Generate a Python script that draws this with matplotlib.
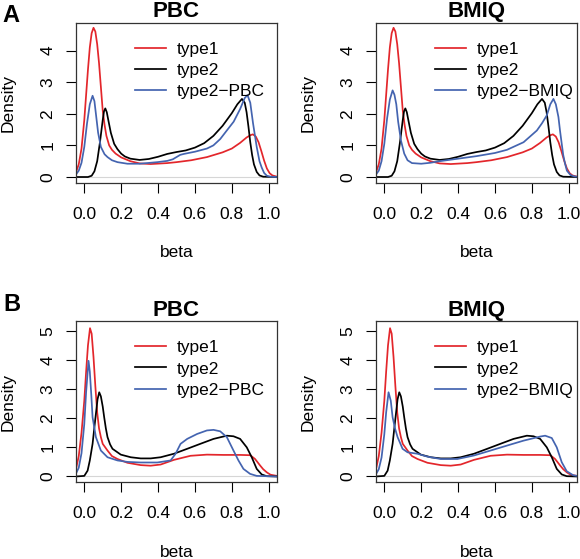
import matplotlib
matplotlib.use('Agg')
import matplotlib.pyplot as plt

plt.rcParams['font.family'] = ['Liberation Sans', 'DejaVu Sans']

# ---- A: density of beta values (top row) ----
a_type1_x = [-0.045, -0.03, -0.015, 0.0, 0.01, 0.02, 0.03, 0.04, 0.05, 0.06, 0.07, 0.08, 0.09, 0.10, 0.11, 0.12,
             0.135, 0.15, 0.17, 0.2, 0.25, 0.3, 0.36, 0.45, 0.5, 0.58, 0.665, 0.75, 0.8, 0.845, 0.88, 0.9, 0.914,
             0.93, 0.945, 0.96, 0.975, 0.99, 1.005, 1.02, 1.045]
a_type1_y = [0.15, 0.4, 0.9, 1.8, 2.6, 3.4, 4.1, 4.55, 4.72, 4.6, 4.2, 3.6, 2.85, 2.1, 1.65, 1.3,
             1.0, 0.86, 0.74, 0.62, 0.5, 0.43, 0.41, 0.44, 0.47, 0.53, 0.63, 0.78, 0.9, 1.08, 1.25, 1.32, 1.35,
             1.28, 1.1, 0.82, 0.52, 0.27, 0.12, 0.05, 0.01]

a_type2_x = [-0.045, 0.02, 0.04, 0.055, 0.07, 0.085, 0.1, 0.107, 0.114, 0.122, 0.132, 0.144, 0.162, 0.18, 0.2,
             0.22, 0.25, 0.3, 0.35, 0.4, 0.45, 0.5, 0.55, 0.6, 0.65, 0.7, 0.75, 0.8, 0.83, 0.855, 0.87, 0.88,
             0.89, 0.9, 0.91, 0.92, 0.935, 0.95, 0.97, 1.045]
a_type2_y = [0, 0, 0.04, 0.18, 0.5, 1.1, 1.8, 2.08, 2.17, 2.05, 1.75, 1.4, 1.05, 0.88, 0.74,
             0.65, 0.58, 0.54, 0.57, 0.64, 0.73, 0.79, 0.84, 0.93, 1.07, 1.3, 1.62, 2.02, 2.3, 2.47, 2.35, 2.05,
             1.6, 1.1, 0.7, 0.4, 0.16, 0.05, 0.01, 0]

a_pbc_x = [-0.045, -0.03, -0.015, 0.0, 0.015, 0.03, 0.045, 0.055, 0.065, 0.075, 0.09, 0.11, 0.126, 0.15, 0.18,
           0.234, 0.3, 0.396, 0.45, 0.48, 0.5, 0.52, 0.54, 0.6, 0.665, 0.7, 0.737, 0.77, 0.81, 0.845, 0.87,
           0.885, 0.9, 0.915, 0.935, 0.95, 0.962, 0.975, 0.99, 1.01, 1.045]
a_pbc_y = [0.08, 0.2, 0.45, 0.95, 1.7, 2.3, 2.57, 2.4, 1.9, 1.4, 0.95, 0.72, 0.63, 0.53, 0.47,
           0.42, 0.42, 0.47, 0.51, 0.56, 0.63, 0.7, 0.73, 0.8, 0.9, 1.0, 1.2, 1.45, 1.75, 2.15, 2.5,
           2.59, 2.35, 1.7, 0.95, 0.5, 0.3, 0.13, 0.04, 0.01, 0]

a_bmiq_x = [-0.045, -0.03, -0.015, 0.0, 0.015, 0.03, 0.045, 0.055, 0.065, 0.075, 0.09, 0.108, 0.126, 0.15, 0.2,
            0.25, 0.3, 0.4, 0.5, 0.6, 0.665, 0.755, 0.827, 0.855, 0.881, 0.9, 0.917, 0.93, 0.944, 0.953,
            0.962, 0.97, 0.98, 0.99, 1.01, 1.03, 1.045]
a_bmiq_y = [0.08, 0.2, 0.5, 1.05, 1.85, 2.45, 2.74, 2.6, 2.3, 1.75, 1.16, 0.74, 0.53, 0.44, 0.42,
            0.45, 0.5, 0.58, 0.66, 0.76, 0.86, 1.1, 1.47, 1.7, 1.95, 2.3, 2.47, 2.3, 1.9, 1.45,
            1.05, 0.7, 0.42, 0.2, 0.06, 0.02, 0.01]

# ---- B: density of beta values (bottom row) ----
b_type1_x = [-0.045, -0.03, -0.015, 0.0, 0.01, 0.02, 0.031, 0.04, 0.05, 0.06, 0.07, 0.08, 0.09, 0.1, 0.126,
             0.15, 0.18, 0.234, 0.306, 0.36, 0.414, 0.486, 0.576, 0.665, 0.755, 0.845, 0.9, 0.926, 0.953, 0.97,
             0.99, 1.01, 1.045]
b_type1_y = [0.25, 0.7, 1.5, 2.6, 3.6, 4.5, 5.09, 4.9, 4.1, 3.1, 2.2, 1.65, 1.35, 1.12, 0.89,
             0.7, 0.6, 0.47, 0.39, 0.37, 0.41, 0.57, 0.71, 0.75, 0.74, 0.74, 0.73, 0.6, 0.38, 0.25,
             0.14, 0.06, 0.02]

b_type2_x = [-0.045, 0.0, 0.018, 0.03, 0.045, 0.055, 0.063, 0.072, 0.081, 0.09, 0.1, 0.108, 0.117, 0.126, 0.14,
             0.153, 0.198, 0.252, 0.306, 0.36, 0.414, 0.486, 0.558, 0.629, 0.701, 0.773, 0.809, 0.845, 0.881,
             0.908, 0.935, 0.962, 0.989, 1.045]
b_type2_y = [0, 0.02, 0.2, 0.55, 1.12, 1.7, 2.15, 2.65, 2.89, 2.75, 2.4, 2.03, 1.65, 1.35, 1.1,
             0.95, 0.75, 0.66, 0.62, 0.62, 0.66, 0.78, 0.95, 1.12, 1.29, 1.4, 1.38, 1.29, 1.0,
             0.66, 0.26, 0.07, 0.01, 0]

b_pbc_x = [-0.045, -0.03, -0.015, 0.0, 0.01, 0.023, 0.03, 0.038, 0.045, 0.063, 0.09, 0.126, 0.18, 0.234, 0.306,
           0.396, 0.468, 0.495, 0.522, 0.558, 0.612, 0.665, 0.701, 0.737, 0.773, 0.809, 0.836, 0.863, 0.899,
           0.935, 1.045]
b_pbc_y = [0.1, 0.3, 0.8, 1.8, 2.9, 3.97, 3.6, 2.8, 2.03, 1.35, 0.89, 0.66, 0.55, 0.5, 0.48,
           0.48, 0.55, 0.78, 1.12, 1.29, 1.46, 1.58, 1.6, 1.55, 1.35, 0.89, 0.55, 0.26, 0.09,
           0.02, 0]

b_bmiq_x = [-0.045, -0.03, -0.015, 0.0, 0.01, 0.023, 0.035, 0.045, 0.058, 0.072, 0.099, 0.126, 0.18, 0.234,
            0.306, 0.396, 0.486, 0.576, 0.665, 0.755, 0.845, 0.872, 0.908, 0.935, 0.962, 0.989, 1.025, 1.045]
b_bmiq_y = [0.08, 0.25, 0.65, 1.45, 2.2, 2.89, 2.6, 2.03, 1.65, 1.35, 0.95, 0.83, 0.78, 0.68,
            0.6, 0.6, 0.72, 0.89, 1.06, 1.23, 1.37, 1.4, 1.32, 1.0, 0.49, 0.18, 0.04, 0.02]

x_ticks = [0.0, 0.2, 0.4, 0.6, 0.8, 1.0]
a_y_ticks = [0, 1, 2, 3, 4]
b_y_ticks = [0, 1, 2, 3, 4, 5]

RED = '#e3262b'
BLACK = '#000000'
BLUE = '#4464b0'


def draw_panel(ax, title, curves, yticks, ylim):
    ax.axhline(0, color='#d6d6d6', lw=0.8, zorder=0)
    for x, y, color, label in curves:
        ax.plot(x, y, color=color, lw=1.25, label=label)
    ax.set_xlim(-0.045, 1.045)
    ax.set_ylim(*ylim)
    ax.set_xticks(x_ticks)
    ax.set_xticklabels(['%.1f' % t for t in x_ticks])
    ax.set_yticks(yticks)
    ax.tick_params(direction='out', length=7, width=0.8, labelsize=12.5)
    ax.tick_params(axis='x', pad=10)
    ax.tick_params(axis='y', labelrotation=90, pad=8)
    for lab in ax.get_yticklabels():
        lab.set_va('center')
    for sp in ax.spines.values():
        sp.set_linewidth(0.9)
        sp.set_color('#333333')
    ax.set_title(title, fontweight='bold', fontsize=16, pad=4)
    ax.set_xlabel('beta', fontsize=12.5)
    ax.xaxis.set_label_coords(0.5, -0.435)
    ax.xaxis.label.set_va('center')
    ax.set_ylabel('Density', fontsize=12.5)
    ax.yaxis.set_label_coords(-0.338, 0.5)
    ax.yaxis.label.set_va('center')
    ax.legend(loc='upper left', bbox_to_anchor=(0.294, 0.885), frameon=False, fontsize=12.5,
              handlelength=1.8, handletextpad=0.6, labelspacing=0.36, borderpad=0, borderaxespad=0)


fig = plt.figure(figsize=(5.8, 5.59), dpi=100)
ax1 = fig.add_axes([0.131, 0.6726, 0.3466, 0.2862])
ax2 = fig.add_axes([0.6483, 0.6726, 0.3466, 0.2862])
ax3 = fig.add_axes([0.131, 0.1372, 0.3466, 0.2877])
ax4 = fig.add_axes([0.6483, 0.1372, 0.3466, 0.2877])

draw_panel(ax1, 'PBC', [(a_type1_x, a_type1_y, RED, 'type1'),
                        (a_type2_x, a_type2_y, BLACK, 'type2'),
                        (a_pbc_x, a_pbc_y, BLUE, 'type2\u2212PBC')], a_y_ticks, (-0.19, 4.87))
draw_panel(ax2, 'BMIQ', [(a_type1_x, a_type1_y, RED, 'type1'),
                         (a_type2_x, a_type2_y, BLACK, 'type2'),
                         (a_bmiq_x, a_bmiq_y, BLUE, 'type2\u2212BMIQ')], a_y_ticks, (-0.19, 4.87))
draw_panel(ax3, 'PBC', [(b_type1_x, b_type1_y, RED, 'type1'),
                        (b_type2_x, b_type2_y, BLACK, 'type2'),
                        (b_pbc_x, b_pbc_y, BLUE, 'type2\u2212PBC')], b_y_ticks, (-0.2, 5.32))
draw_panel(ax4, 'BMIQ', [(b_type1_x, b_type1_y, RED, 'type1'),
                         (b_type2_x, b_type2_y, BLACK, 'type2'),
                         (b_bmiq_x, b_bmiq_y, BLUE, 'type2\u2212BMIQ')], b_y_ticks, (-0.2, 5.32))

fig.text(0.004, 0.9612, 'A', fontsize=17, fontweight='bold', va='baseline', ha='left')
fig.text(0.005, 0.4442, 'B', fontsize=17, fontweight='bold', va='baseline', ha='left')

fig.savefig('out.png', dpi=100)
